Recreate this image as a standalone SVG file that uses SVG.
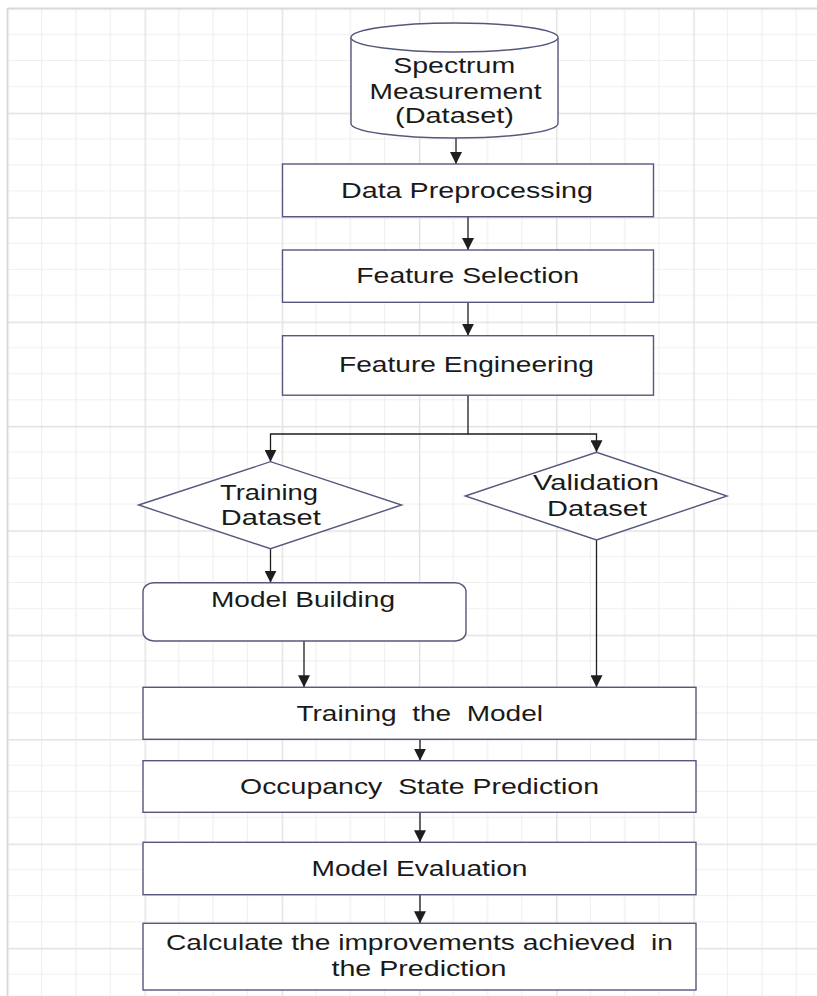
<svg xmlns="http://www.w3.org/2000/svg" width="817" height="996" viewBox="0 0 817 996">
<style>
.shape{fill:#ffffff;stroke:#55587c;stroke-width:1.4}
.conn{fill:none;stroke:#1e1e1e;stroke-width:1.3}
.lbl{font-family:"Liberation Sans",Arial,sans-serif;font-size:22px;fill:#1a1a1a;text-anchor:middle;white-space:pre}
</style>
<defs>
<pattern id="grid" patternUnits="userSpaceOnUse" x="7.3" y="8.3" width="137.2" height="104.4">
<g stroke="#efefef" stroke-width="1.2">
<line x1="34.3" y1="0" x2="34.3" y2="104.4"/>
<line x1="68.6" y1="0" x2="68.6" y2="104.4"/>
<line x1="102.9" y1="0" x2="102.9" y2="104.4"/>
<line x1="0" y1="26.1" x2="137.2" y2="26.1"/>
<line x1="0" y1="52.2" x2="137.2" y2="52.2"/>
<line x1="0" y1="78.3" x2="137.2" y2="78.3"/>
</g>
<g stroke="#e2e2e2" stroke-width="1.4">
<line x1="0.7" y1="0" x2="0.7" y2="104.4"/>
<line x1="0" y1="0.7" x2="137.2" y2="0.7"/>
</g>
</pattern>
<marker id="arr" markerUnits="userSpaceOnUse" markerWidth="12" markerHeight="12" viewBox="0 0 10 10" refX="10" refY="5" orient="auto">
<path d="M0,0 L10,5 L0,10 Z" fill="#1e1e1e"/>
</marker>
</defs>
<rect x="0" y="0" width="817" height="996" fill="#ffffff"/>
<rect x="7.3" y="8.3" width="810" height="988" fill="url(#grid)"/>
<line x1="7.3" y1="8.3" x2="7.3" y2="996" stroke="#d8d8d8" stroke-width="1.4"/>
<line x1="7.3" y1="8.3" x2="817" y2="8.3" stroke="#d8d8d8" stroke-width="1.4"/>

<g id="connectors">
<path class="conn" d="M456,138 V164" marker-end="url(#arr)"/>
<path class="conn" d="M468,216.7 V250" marker-end="url(#arr)"/>
<path class="conn" d="M468,302.3 V335.7" marker-end="url(#arr)"/>
<path class="conn" d="M468,395.2 V434 H270.5 V461.7" marker-end="url(#arr)"/>
<path class="conn" d="M468,434 H596.5 V452.3" marker-end="url(#arr)"/>
<path class="conn" d="M270.5,548.7 V582.7" marker-end="url(#arr)"/>
<path class="conn" d="M304,641 V687.3" marker-end="url(#arr)"/>
<path class="conn" d="M596.5,540 V687.3" marker-end="url(#arr)"/>
<path class="conn" d="M420,739.3 V760.7" marker-end="url(#arr)"/>
<path class="conn" d="M420,812.3 V842.3" marker-end="url(#arr)"/>
<path class="conn" d="M420,894.7 V923.3" marker-end="url(#arr)"/>
</g>

<g id="spectrum">
<path class="shape" d="M351,37.5 A103.5,14.5 0 0 1 558,37.5 V123.5 A103.5,14.5 0 0 1 351,123.5 Z"/>
<path class="shape" fill="none" d="M351,37.5 A103.5,14.5 0 0 0 558,37.5"/>
<text class="lbl" x="454.2" y="73" textLength="122" lengthAdjust="spacingAndGlyphs">Spectrum</text>
<text class="lbl" x="455.5" y="98.5" textLength="172" lengthAdjust="spacingAndGlyphs">Measurement</text>
<text class="lbl" x="454.5" y="123" textLength="119" lengthAdjust="spacingAndGlyphs">(Dataset)</text>
</g>

<g id="preprocessing">
<rect class="shape" x="282.5" y="164" width="371" height="52.7"/>
<text class="lbl" x="467" y="198" textLength="252" lengthAdjust="spacingAndGlyphs">Data Preprocessing</text>
</g>

<g id="selection">
<rect class="shape" x="282.5" y="250" width="371" height="52.3"/>
<text class="lbl" x="467.7" y="283" textLength="223" lengthAdjust="spacingAndGlyphs">Feature Selection</text>
</g>

<g id="engineering">
<rect class="shape" x="282.5" y="335.7" width="371" height="59.5"/>
<text class="lbl" x="466.5" y="371.5" textLength="255" lengthAdjust="spacingAndGlyphs">Feature Engineering</text>
</g>

<g id="training-dataset">
<polygon class="shape" points="138.7,505 270.5,461.7 401.6,505 270.5,548.7"/>
<text class="lbl" x="269" y="499.5" textLength="98" lengthAdjust="spacingAndGlyphs">Training</text>
<text class="lbl" x="270.8" y="524.5" textLength="100" lengthAdjust="spacingAndGlyphs">Dataset</text>
</g>

<g id="validation-dataset">
<polygon class="shape" points="465.3,496 596.5,452.3 727,496 596.5,540"/>
<text class="lbl" x="596" y="490" textLength="126" lengthAdjust="spacingAndGlyphs">Validation</text>
<text class="lbl" x="597" y="515.5" textLength="100" lengthAdjust="spacingAndGlyphs">Dataset</text>
</g>

<g id="model-building">
<rect class="shape" x="143" y="582.7" width="323" height="58.3" rx="11" ry="9"/>
<text class="lbl" x="303" y="606.5" textLength="184" lengthAdjust="spacingAndGlyphs">Model Building</text>
</g>

<g id="training-model">
<rect class="shape" x="143" y="687.3" width="553" height="52"/>
<text class="lbl" x="419.7" y="720.5" textLength="246.5" lengthAdjust="spacingAndGlyphs">Training  the  Model</text>
</g>

<g id="occupancy">
<rect class="shape" x="143" y="760.7" width="553" height="51.6"/>
<text class="lbl" x="419.5" y="794" textLength="359" lengthAdjust="spacingAndGlyphs">Occupancy  State Prediction</text>
</g>

<g id="evaluation">
<rect class="shape" x="143" y="842.3" width="553" height="52.4"/>
<text class="lbl" x="419.5" y="875.5" textLength="216" lengthAdjust="spacingAndGlyphs">Model Evaluation</text>
</g>

<g id="improvements">
<rect class="shape" x="143" y="923.3" width="553" height="66.7"/>
<text class="lbl" x="419.5" y="950" textLength="507" lengthAdjust="spacingAndGlyphs">Calculate the improvements achieved  in</text>
<text class="lbl" x="419" y="976" textLength="175" lengthAdjust="spacingAndGlyphs">the Prediction</text>
</g>
</svg>
